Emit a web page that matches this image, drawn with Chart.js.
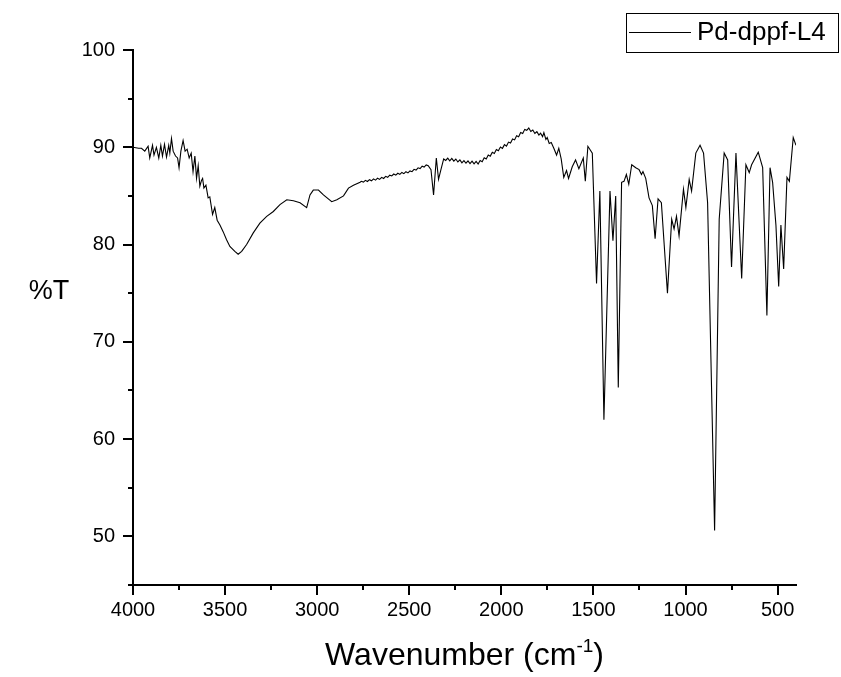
<!DOCTYPE html>
<html><head><meta charset="utf-8">
<script src="https://cdn.jsdelivr.net/npm/chart.js@4.4.0/dist/chart.umd.min.js"></script>
<style>html,body{margin:0;padding:0;background:#fff;}#wrap{width:841px;height:677px;position:relative;}</style>
</head><body><div id="wrap"><canvas id="c" width="841" height="677"></canvas></div>
<script>
const seriesName = 'Pd-dppf-L4';
const wavenumbers = [
4000,3970,3954,3936,3918,3909,3894,3886,3873,3860,3849,3840,3829,3818,3806,3800,3791,3782,3769,3758,
3750,3740,3728,3717,3706,3695,3684,3674,3664,3655,3646,3637,3628,3622,3615,3604,3592,3583,3568,3556,
3543,3528,3510,3492,3474,3447,3429,3410,3383,3347,3311,3274,3238,3202,3165,3129,3093,3057,3039,3021,
2993,2966,2921,2893,2857,2830,2803,2767,
2760,2749,2738,2727,2716,2705,2694,2683,2672,2661,2650,2639,2628,2617,2606,2595,2584,2573,2562,2551,
2540,2529,2518,2507,2496,2485,2474,2463,2452,2441,2430,2419,2408,2397,
2382,2368,2353,2341,2328,2313,
2302,2291,2280,2269,2258,2247,2236,2225,2214,2203,2192,2181,2170,2159,2148,2137,2126,2115,2104,2093,
2082,2071,2060,2049,2038,2027,2016,2005,1994,1983,1972,1961,1950,1939,1928,1917,1906,1895,1884,1873,
1862,1851,1840,1829,1818,1807,1796,1787,1776,1769,1758,1751,1740,1729,1715,1700,1688,1675,
1661,1646,1635,1615,1597,1579,1555,1544,1530,1506,1483,1465,1443,1410,1394,1379,1365,1347,1334,1321,
1308,1292,1270,1252,1239,1231,1216,1198,1180,1165,1149,1131,1098,1075,1062,1049,1035,1011,998,980,
967,944,921,902,880,842,817,790,771,750,726,695,672,654,641,605,581,558,541,527,
509,494,482,467,449,436,415,400];
const transmittance = [
90.0,89.9,89.9,89.6,90.1,88.9,90.2,89.2,90.0,88.9,90.2,89.1,90.3,89.0,90.2,89.4,90.9,89.6,89.1,88.9,
87.9,89.6,90.7,89.6,89.8,88.9,89.4,87.5,89.1,86.8,88.1,86.0,86.6,86.8,85.8,86.1,84.8,84.9,83.1,83.8,
82.5,82.0,81.3,80.5,79.8,79.3,79.0,79.3,80.0,81.2,82.2,82.9,83.4,84.1,84.6,84.5,84.3,83.8,85.1,85.6,
85.6,85.1,84.4,84.6,85.0,85.8,86.1,86.4,
86.50,86.42,86.60,86.48,86.67,86.55,86.75,86.62,86.82,86.70,86.91,86.79,87.01,86.91,87.13,87.05,87.25,87.13,87.33,87.21,
87.41,87.29,87.49,87.37,87.57,87.49,87.73,87.65,87.89,87.81,88.05,87.96,88.19,88.10,
87.7,85.1,88.9,86.7,87.7,88.8,
88.65,88.89,88.61,88.85,88.57,88.79,88.49,88.70,88.40,88.63,88.36,88.60,88.33,88.58,88.30,88.55,88.27,88.63,88.52,88.92,
88.80,89.21,89.09,89.49,89.37,89.78,89.65,90.03,89.89,90.27,90.12,90.53,90.44,90.86,90.76,91.19,91.09,91.51,91.42,91.84,
91.75,91.98,91.62,91.78,91.42,91.60,91.25,91.45,91.10,91.50,90.80,91.00,90.40,90.50,89.9,89.2,89.9,88.8,
86.9,87.6,86.8,88.0,88.7,87.8,88.9,86.5,90.1,89.4,76.0,85.5,62.0,85.5,80.4,85.0,65.3,86.4,86.5,87.2,
86.2,88.2,87.9,87.7,87.2,87.5,86.8,84.8,84.0,80.6,84.7,84.3,75.0,82.6,81.6,82.9,80.9,85.7,83.8,86.7,
85.5,89.4,90.2,89.4,84.3,50.6,82.6,89.4,88.7,77.7,89.4,76.5,88.2,87.4,88.2,89.5,87.9,72.7,87.9,86.4,
82.0,75.7,82.0,77.5,86.9,86.5,91.0,90.2];
const xTickValues = [4000,3500,3000,2500,2000,1500,1000,500];
const xMinorTickValues = [3750,3250,2750,2250,1750,1250,750];
const yTickValues = [50,60,70,80,90,100];
const yMinorTickValues = [45,55,65,75,85,95];
const xTitleMain = 'Wavenumber (cm';
const xTitleSup = '-1';
const xTitleEnd = ')';
const yTitle = '%T';

const FONT = "'Liberation Sans', Arial, sans-serif";

const extras = {
  id: 'extras',
  afterDraw(chart) {
    const ctx = chart.ctx;
    const xs = chart.scales.x, ys = chart.scales.y;
    const ca = chart.chartArea;
    ctx.save();
    ctx.strokeStyle = '#000';
    ctx.lineWidth = 2;
    yMinorTickValues.forEach(v => {
      const py = Math.round(ys.getPixelForValue(v));
      ctx.beginPath(); ctx.moveTo(ca.left - 5, py); ctx.lineTo(ca.left, py); ctx.stroke();
    });
    xMinorTickValues.forEach(v => {
      const px = Math.round(xs.getPixelForValue(v));
      ctx.beginPath(); ctx.moveTo(px, ca.bottom); ctx.lineTo(px, ca.bottom + 5); ctx.stroke();
    });
    ctx.fillStyle = '#000';
    ctx.font = '27px ' + FONT;
    ctx.textAlign = 'center';
    ctx.textBaseline = 'middle';
    ctx.fillText(yTitle, 49, 292);
    const big = '32px ' + FONT, small = '19px ' + FONT;
    ctx.font = big; const w1 = ctx.measureText(xTitleMain).width; const w3 = ctx.measureText(xTitleEnd).width;
    ctx.font = small; const w2 = ctx.measureText(xTitleSup).width;
    const total = w1 + w2 + w3;
    let x0 = (ca.left + ca.right) / 2 - total / 2;
    const base = 665;
    ctx.textAlign = 'left'; ctx.textBaseline = 'alphabetic';
    ctx.font = big; ctx.fillText(xTitleMain, x0, base);
    ctx.font = small; ctx.fillText(xTitleSup, x0 + w1, base - 13);
    ctx.font = big; ctx.fillText(xTitleEnd, x0 + w1 + w2, base);
    const ds = chart.data.datasets[0];
    ctx.lineWidth = 1;
    ctx.strokeStyle = '#000';
    ctx.strokeRect(626.5, 13.5, 212, 39);
    ctx.beginPath(); ctx.moveTo(629, 32.5); ctx.lineTo(691, 32.5); ctx.stroke();
    ctx.font = '26px ' + FONT;
    ctx.textBaseline = 'middle';
    ctx.fillText(ds.label, 697, 33);
    ctx.restore();
  }
};

new Chart(document.getElementById('c'), {
  type: 'line',
  data: {
    datasets: [{
      label: seriesName,
      data: wavenumbers.map((w, i) => ({ x: w, y: transmittance[i] })),
      borderColor: '#000',
      borderWidth: 1.1,
      pointRadius: 0,
      tension: 0,
      fill: false
    }]
  },
  options: {
    responsive: false,
    animation: false,
    devicePixelRatio: 1,
    layout: { padding: { left: 0, right: 45, top: 50, bottom: 0 } },
    plugins: { legend: { display: false }, tooltip: { enabled: false } },
    scales: {
      x: {
        type: 'linear', reverse: true, min: 400, max: 4000,
        afterBuildTicks: s => { s.ticks = xTickValues.map(v => ({ value: v })); },
        afterFit: s => { s.height = 92; },
        ticks: { font: { family: FONT, size: 20 }, color: '#000', padding: 3, maxRotation: 0, autoSkip: false, callback: v => String(v) },
        grid: { drawOnChartArea: false, drawTicks: true, tickLength: 10, color: '#000', lineWidth: 2 },
        border: { display: true, color: '#000', width: 2 }
      },
      y: {
        type: 'linear', min: 45, max: 100,
        afterBuildTicks: s => { s.ticks = yTickValues.map(v => ({ value: v })); },
        afterFit: s => { s.width = 133; },
        ticks: { font: { family: FONT, size: 20 }, color: '#000', padding: 8, callback: v => String(v) },
        grid: { drawOnChartArea: false, drawTicks: true, tickLength: 10, color: '#000', lineWidth: 2 },
        border: { display: true, color: '#000', width: 2 }
      }
    }
  },
  plugins: [extras]
});
</script></body></html>
